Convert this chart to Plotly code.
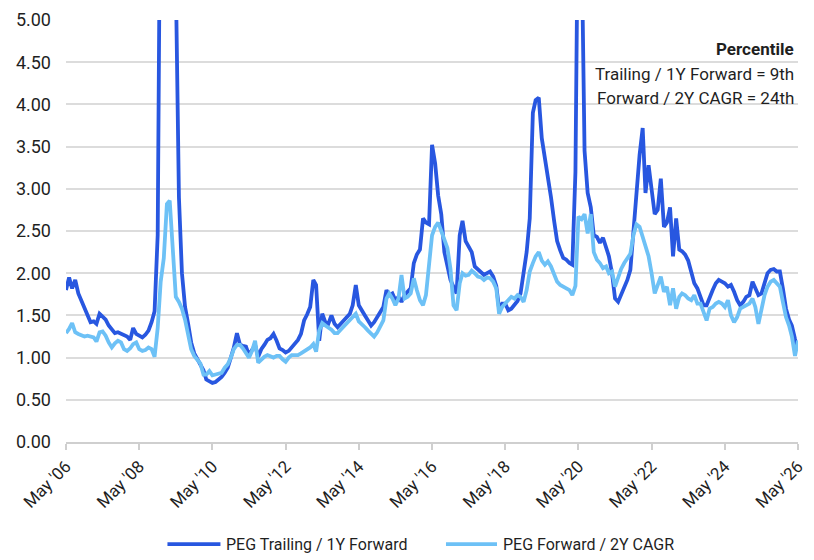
import pandas as pd
import plotly.graph_objects as go

# Monthly PEG ratios, May 2006 onward
peg_trailing_1y_fwd = [
    1.80, 1.95, 1.82, 1.92, 1.76, 1.68, 1.58, 1.50, 1.42, 1.43, 1.40, 1.52,
    1.48, 1.45, 1.38, 1.33, 1.29, 1.30, 1.28, 1.27, 1.25, 1.21, 1.35, 1.28,
    1.26, 1.24, 1.27, 1.32, 1.42, 1.55, 2.45, 7.50, 10.0, 12.5, 11.0, 8.00,
    5.80, 2.90, 2.00, 1.60, 1.40, 1.18, 1.05, 0.98, 0.93, 0.85, 0.74, 0.72,
    0.70, 0.71, 0.74, 0.77, 0.82, 0.88, 1.00, 1.12, 1.29, 1.15, 1.14, 1.13,
    1.03, 1.09, 1.15, 1.01, 1.10, 1.15, 1.21, 1.23, 1.28, 1.20, 1.11, 1.09,
    1.06, 1.08, 1.12, 1.16, 1.21, 1.28, 1.44, 1.51, 1.60, 1.92, 1.86, 1.20,
    1.52, 1.42, 1.40, 1.50, 1.40, 1.36, 1.40, 1.44, 1.47, 1.52, 1.62, 1.86,
    1.62, 1.55, 1.50, 1.44, 1.38, 1.42, 1.48, 1.52, 1.60, 1.80, 1.74, 1.76,
    1.68, 1.72, 1.66, 1.74, 1.78, 1.82, 2.12, 2.22, 2.28, 2.65, 2.60, 2.58,
    3.52, 3.30, 2.92, 2.70, 2.25, 2.07, 1.92, 1.84, 1.76, 2.45, 2.62, 2.38,
    2.32, 2.25, 2.08, 2.05, 2.02, 1.98, 2.00, 2.02, 1.96, 1.85, 1.58, 1.64,
    1.64, 1.56, 1.58, 1.62, 1.67, 1.76, 2.00, 2.25, 2.65, 3.90, 4.05, 4.08,
    3.60, 3.38, 3.15, 2.90, 2.62, 2.38, 2.27, 2.18, 2.16, 2.12, 2.10, 3.20,
    7.00, 6.00, 3.45, 2.95, 2.78, 2.45, 2.43, 2.36, 2.42, 2.30, 2.20, 2.00,
    1.70, 1.66, 1.74, 1.82, 1.92, 2.04, 2.50, 2.95, 3.40, 3.72, 2.95, 3.28,
    3.00, 2.70, 2.75, 3.12, 2.55, 2.60, 2.78, 2.20, 2.65, 2.28, 2.26, 2.22,
    2.15, 2.00, 1.88, 1.82, 1.72, 1.62, 1.62, 1.72, 1.80, 1.88, 1.92, 1.90,
    1.88, 1.84, 1.86, 1.78, 1.68, 1.62, 1.66, 1.72, 1.74, 1.90, 1.82, 1.74,
    1.76, 1.90, 2.00, 2.04, 2.05, 2.02, 2.02, 1.82, 1.58, 1.45, 1.38, 1.22,
    1.08,
]

peg_fwd_2y_cagr = [
    1.29, 1.34, 1.41, 1.30, 1.28, 1.26, 1.25, 1.26, 1.25, 1.24, 1.19, 1.30,
    1.31, 1.26, 1.18, 1.12, 1.17, 1.20, 1.18, 1.10, 1.08, 1.11, 1.16, 1.18,
    1.10, 1.08, 1.09, 1.12, 1.10, 1.01, 1.35, 1.90, 2.18, 2.82, 2.86, 2.30,
    1.72, 1.66, 1.58, 1.45, 1.27, 1.10, 1.02, 0.97, 0.93, 0.80, 0.80, 0.84,
    0.79, 0.80, 0.81, 0.82, 0.88, 0.92, 1.00, 1.10, 1.15, 1.15, 1.11, 1.05,
    1.00, 1.08, 1.20, 0.94, 0.98, 1.01, 1.03, 1.02, 1.00, 1.02, 1.02, 0.98,
    0.95, 1.00, 1.03, 1.03, 1.03, 1.05, 1.07, 1.10, 1.12, 1.16, 1.07, 1.32,
    1.41, 1.38, 1.36, 1.33, 1.29, 1.29, 1.33, 1.37, 1.40, 1.44, 1.48, 1.52,
    1.43, 1.40, 1.36, 1.32, 1.28, 1.25, 1.30, 1.38, 1.44, 1.70, 1.76, 1.70,
    1.62, 1.70, 1.98, 1.70, 1.72, 1.76, 1.94, 1.80, 1.68, 1.62, 1.74, 2.10,
    2.45, 2.55, 2.60, 2.50, 2.38, 2.30, 2.05, 1.62, 1.56, 1.88, 2.00, 1.97,
    1.98, 2.03, 2.00, 1.96, 1.95, 1.92, 1.95, 1.94, 1.90, 1.82, 1.52, 1.60,
    1.64, 1.68, 1.72, 1.70, 1.74, 1.72, 1.66, 1.80, 2.02, 2.12, 2.20, 2.25,
    2.15, 2.10, 2.14, 2.08, 2.00, 1.90, 1.86, 1.84, 1.82, 1.80, 1.74, 1.85,
    2.67, 2.64, 2.70, 2.47, 2.70, 2.25, 2.16, 2.12, 2.06, 2.08, 2.00, 2.02,
    1.84, 1.95, 2.05, 2.12, 2.17, 2.23, 2.45, 2.58, 2.55, 2.42, 2.30, 2.20,
    2.00, 1.76, 1.86, 1.96, 1.78, 1.84, 1.62, 1.82, 1.58, 1.72, 1.76, 1.74,
    1.70, 1.68, 1.74, 1.64, 1.64, 1.54, 1.44, 1.58, 1.60, 1.64, 1.66, 1.64,
    1.60, 1.68, 1.50, 1.42, 1.48, 1.58, 1.60, 1.62, 1.64, 1.70, 1.60, 1.40,
    1.55, 1.74, 1.84, 1.90, 1.92, 1.88, 1.84, 1.66, 1.48, 1.38, 1.25, 1.02,
    1.20,
]

dates = pd.date_range("2006-05-01", periods=len(peg_trailing_1y_fwd), freq="MS")

tick_dates = pd.date_range("2006-05-01", "2026-05-01", freq="24MS")
tick_labels = ["May '06", "May '08", "May '10", "May '12", "May '14", "May '16",
               "May '18", "May '20", "May '22", "May '24", "May '26"]

series_names = ["PEG Trailing / 1Y Forward", "PEG Forward / 2Y CAGR"]
series_colors = ["#2857E0", "#6DC1F6"]

percentile_title = "Percentile"
percentile_rows = ["Trailing / 1Y Forward = 9th", "Forward / 2Y CAGR = 24th"]

FONT = "Roboto, 'Liberation Sans', Arial, sans-serif"
TEXT = "#1f1f1f"
LINE_W = 3.8

fig = go.Figure()
for name, vals, col in zip(series_names, [peg_trailing_1y_fwd, peg_fwd_2y_cagr], series_colors):
    fig.add_trace(go.Scatter(
        x=dates, y=vals, name=name, mode="lines",
        line=dict(color=col, width=LINE_W),
        showlegend=False,
    ))

# Percentile note, top right of the plot
note_y = [0.932, 0.872, 0.815]
for txt, yy in zip(["<b>%s</b>" % percentile_title] + percentile_rows, note_y):
    fig.add_annotation(
        xref="paper", yref="paper", x=0.997, y=yy, xanchor="right", yanchor="middle",
        showarrow=False, text=txt,
        font=dict(family=FONT, size=17, color=TEXT),
    )

# Legend drawn below the axis: line sample followed by its label
legend_y = -0.242
legend_items = [(0.1386, 0.2110, 0.2165), (0.5191, 0.5888, 0.5942)]
for (x0, x1, xt), name, col in zip(legend_items, series_names, series_colors):
    fig.add_shape(type="line", xref="paper", yref="paper",
                  x0=x0, x1=x1, y0=legend_y, y1=legend_y,
                  line=dict(color=col, width=LINE_W))
    fig.add_annotation(xref="paper", yref="paper", x=xt, y=legend_y,
                       xanchor="left", yanchor="middle", showarrow=False,
                       text=name, font=dict(family=FONT, size=16, color=TEXT))

fig.update_layout(
    width=814, height=560,
    margin=dict(l=66, r=16, t=20, b=118),
    paper_bgcolor="white", plot_bgcolor="white",
    font=dict(family=FONT, color=TEXT),
    showlegend=False,
    xaxis=dict(
        type="date", automargin=False,
        range=[tick_dates[0], tick_dates[-1]],
        tickvals=tick_dates, ticktext=tick_labels,
        tickangle=-45,
        tickfont=dict(family=FONT, size=17, color=TEXT),
        showgrid=False, zeroline=False,
        showline=True, linecolor="#cfcfcf", linewidth=1.5,
        ticks="outside", ticklen=6, tickcolor="#cfcfcf", tickwidth=1.5,
    ),
    yaxis=dict(
        automargin=False,
        range=[0, 5], dtick=0.5, tick0=0, tickformat=".2f",
        tickfont=dict(family=FONT, size=18, color=TEXT),
        showgrid=True, gridcolor="#dcdcdc", gridwidth=1.5,
        zeroline=False, showline=False, ticks="",
        ticklabelstandoff=14,
    ),
)

fig.write_html("out.html")
